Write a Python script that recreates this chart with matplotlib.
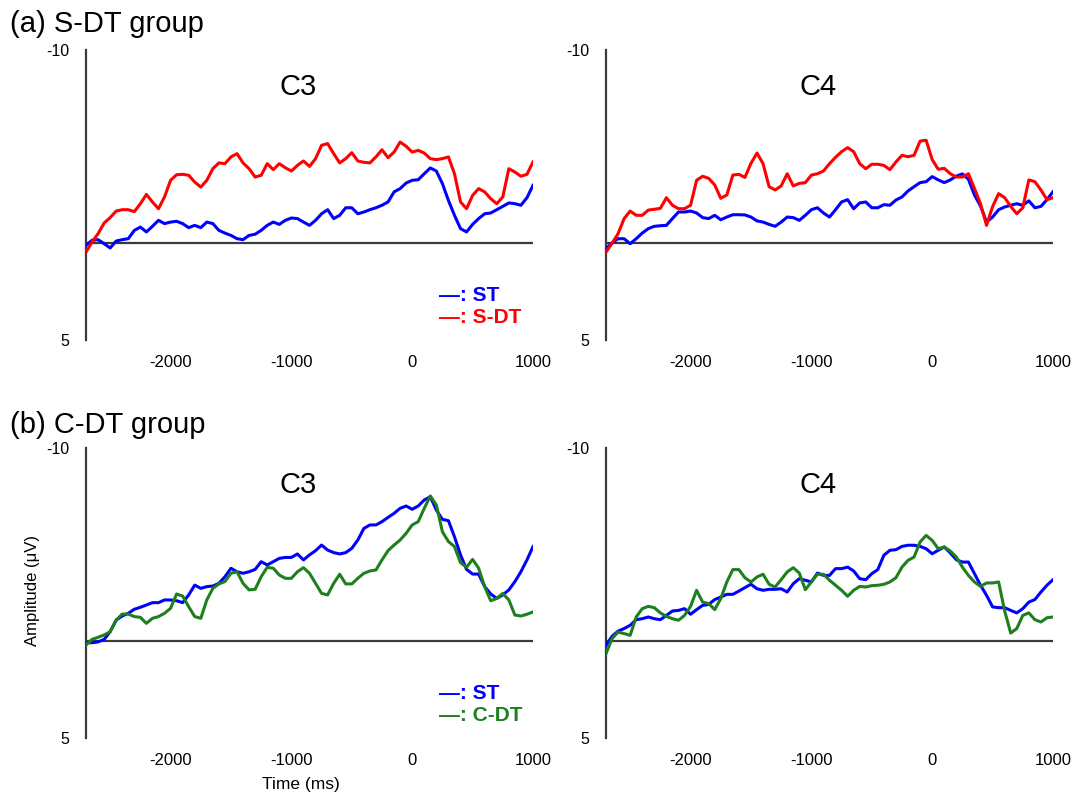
import numpy as np
import matplotlib
matplotlib.use("Agg")
import matplotlib.pyplot as plt

plt.rcParams["font.family"] = ["Liberation Sans", "DejaVu Sans"]

# sampling times (ms), 50 ms steps from -2700 to 1000
time_ms = np.arange(-2700, 1001, 50)

# (a) S-DT group, amplitudes in microvolts (negative is up)
sdt_c3_st = [0.1, -0.16, -0.19, 0.02, 0.24, -0.12, -0.19, -0.24, -0.67, -0.84,
             -0.59, -0.88, -1.19, -1.02, -1.1, -1.14, -1.02, -0.81, -0.93, -0.81,
             -1.1, -1.02, -0.67, -0.53, -0.41, -0.24, -0.19, -0.41, -0.47, -0.67,
             -0.93, -1.1, -0.98, -1.19, -1.31, -1.28, -1.1, -0.93, -1.19, -1.53,
             -1.74, -1.28, -1.45, -1.84, -1.84, -1.53, -1.62, -1.74, -1.84, -1.97,
             -2.14, -2.66, -2.83, -3.12, -3.26, -3.29, -3.6, -3.9, -3.74, -3.09,
             -2.22, -1.45, -0.76, -0.59, -0.98, -1.28, -1.53, -1.57, -1.74, -1.91,
             -2.09, -2.05, -1.97, -2.36, -3.0]
sdt_c3_sdt = [0.45, -0.07, -0.5, -1.05, -1.33, -1.67, -1.74, -1.74, -1.64, -2.05,
              -2.53, -2.14, -1.79, -2.4, -3.26, -3.55, -3.57, -3.52, -3.17, -2.91,
              -3.26, -3.86, -4.16, -4.12, -4.47, -4.64, -4.16, -3.86, -3.43, -3.52,
              -4.12, -3.81, -4.12, -3.91, -3.74, -4.03, -4.26, -3.98, -4.38, -5.07,
              -5.16, -4.64, -4.16, -4.38, -4.69, -4.26, -4.19, -4.16, -4.47, -4.84,
              -4.43, -4.72, -5.24, -5.02, -4.72, -4.81, -4.67, -4.38, -4.33, -4.38,
              -4.47, -3.6, -2.14, -1.79, -2.48, -2.83, -2.66, -2.31, -2.05, -2.4,
              -3.86, -3.69, -3.47, -3.57, -4.21]
sdt_c4_st = [0.28, -0.02, -0.24, -0.24, 0.02, -0.24, -0.53, -0.76, -0.88, -0.91,
             -0.93, -1.28, -1.62, -1.62, -1.67, -1.57, -1.33, -1.28, -1.45, -1.22,
             -1.36, -1.48, -1.48, -1.47, -1.36, -1.16, -1.1, -0.98, -0.88, -1.1,
             -1.36, -1.33, -1.19, -1.45, -1.74, -1.84, -1.57, -1.36, -1.74, -2.14,
             -2.26, -1.79, -2.09, -2.14, -1.84, -1.84, -2.0, -1.97, -2.24, -2.4,
             -2.71, -2.93, -3.14, -3.19, -3.45, -3.28, -3.14, -3.28, -3.48, -3.59,
             -3.31, -2.5, -1.93, -1.1, -1.36, -1.74, -1.88, -1.97, -2.05, -1.97,
             -2.2, -1.84, -1.91, -2.26, -2.67]
sdt_c4_sdt = [0.45, 0.0, -0.5, -1.28, -1.67, -1.45, -1.45, -1.72, -1.76, -1.81,
              -2.36, -1.97, -1.79, -1.79, -1.97, -3.26, -3.47, -3.36, -3.02, -2.33,
              -2.5, -3.53, -3.57, -3.41, -4.14, -4.67, -4.12, -2.93, -2.76, -2.97,
              -3.6, -2.97, -3.1, -3.14, -3.53, -3.6, -3.74, -4.12, -4.45, -4.74,
              -4.95, -4.74, -4.12, -3.86, -4.09, -4.09, -4.03, -3.81, -4.21, -4.55,
              -4.48, -4.55, -5.29, -5.33, -4.33, -3.83, -3.88, -3.6, -3.43, -3.43,
              -3.6, -2.84, -2.05, -0.93, -1.9, -2.57, -2.36, -1.91, -1.53, -1.84,
              -3.28, -3.19, -2.76, -2.26, -2.36]

# (b) C-DT group
cdt_c3_st = [0.07, 0.07, 0.03, -0.1, -0.5, -1.1, -1.31, -1.45, -1.66, -1.76,
             -1.88, -2.0, -2.0, -2.14, -2.14, -2.1, -2.0, -2.4, -2.91, -2.74,
             -2.83, -2.86, -3.0, -3.34, -3.78, -3.6, -3.52, -3.6, -3.72, -4.12,
             -3.95, -4.12, -4.29, -4.34, -4.34, -4.52, -4.21, -4.47, -4.69, -4.98,
             -4.72, -4.59, -4.52, -4.59, -4.81, -5.24, -5.84, -6.02, -6.02, -6.19,
             -6.41, -6.62, -6.88, -7.0, -6.83, -7.0, -7.31, -7.48, -6.79, -6.31,
             -6.24, -5.41, -4.47, -3.72, -3.48, -3.48, -2.83, -2.45, -2.22, -2.4,
             -2.66, -3.09, -3.6, -4.21, -4.9]
cdt_c3_cdt = [0.19, -0.1, -0.21, -0.33, -0.5, -1.1, -1.41, -1.41, -1.28, -1.24,
              -0.93, -1.19, -1.28, -1.45, -1.71, -2.45, -2.34, -1.79, -1.28, -1.19,
              -2.14, -2.74, -2.97, -3.09, -3.52, -3.6, -3.0, -2.66, -2.69, -3.34,
              -3.83, -3.78, -3.43, -3.26, -3.26, -3.6, -3.81, -3.52, -3.0, -2.48,
              -2.4, -3.0, -3.47, -2.97, -2.97, -3.26, -3.52, -3.64, -3.69, -4.21,
              -4.69, -4.98, -5.24, -5.59, -6.02, -6.19, -6.88, -7.52, -7.05, -5.67,
              -5.16, -4.9, -4.07, -3.83, -4.24, -3.78, -2.83, -2.1, -2.22, -2.48,
              -2.14, -1.36, -1.31, -1.4, -1.52]
cdt_c4_st = [0.21, -0.26, -0.53, -0.66, -0.83, -1.12, -1.17, -1.26, -1.17, -1.12,
             -1.34, -1.57, -1.6, -1.69, -1.4, -1.64, -1.86, -1.91, -2.16, -2.29,
             -2.43, -2.43, -2.6, -2.78, -2.95, -2.72, -2.64, -2.69, -2.69, -2.72,
             -2.55, -2.98, -3.24, -3.16, -3.07, -3.53, -3.41, -3.41, -3.76, -3.76,
             -3.84, -3.64, -3.24, -3.19, -3.5, -3.71, -4.45, -4.71, -4.74, -4.91,
             -4.97, -4.97, -4.91, -4.79, -4.53, -4.71, -4.88, -4.57, -4.22, -4.1,
             -4.1, -3.5, -2.9, -2.38, -1.78, -1.74, -1.74, -1.6, -1.47, -1.69,
             -2.03, -2.16, -2.55, -2.9, -3.19]
cdt_c4_cdt = [0.64, -0.14, -0.48, -0.4, -0.31, -1.26, -1.69, -1.81, -1.74, -1.47,
              -1.29, -1.17, -1.09, -1.34, -1.81, -2.64, -2.03, -1.95, -1.64, -2.21,
              -3.07, -3.71, -3.71, -3.29, -3.07, -3.33, -3.47, -2.95, -2.81, -3.19,
              -3.59, -3.81, -3.53, -2.67, -3.07, -3.47, -3.47, -3.16, -2.9, -2.64,
              -2.33, -2.64, -2.84, -2.81, -2.88, -2.9, -2.95, -3.07, -3.29, -3.84,
              -4.19, -4.36, -5.14, -5.48, -5.22, -4.79, -4.88, -4.67, -4.36, -3.84,
              -3.41, -3.07, -2.84, -3.02, -3.02, -3.07, -1.57, -0.43, -0.66, -1.34,
              -1.47, -1.12, -1.0, -1.22, -1.26]

x_ticks = [-2000, -1000, 0, 1000]
y_ticks = [-10, 5]

BLUE = "#0000ff"
RED = "#ff0000"
GREEN = "#1e7f1e"
AXC = "#3a3a3a"

fig = plt.figure(figsize=(10.75, 7.96), dpi=100)
W, H = 1075, 796


def make_ax(px_left, px_top):
    ax = fig.add_axes([px_left / W, 1 - (px_top + 290) / H, 447 / W, 290 / H])
    ax.set_xlim(-2700, 1000)
    ax.set_ylim(5, -10)
    for s in ["top", "right", "bottom"]:
        ax.spines[s].set_visible(False)
    ax.spines["left"].set_color(AXC)
    ax.spines["left"].set_linewidth(1.6)
    ax.axhline(0, color=AXC, linewidth=1.6, zorder=1)
    ax.set_xticks(x_ticks)
    ax.set_xticklabels([str(t) for t in x_ticks], fontsize=12)
    ax.set_yticks(y_ticks)
    ax.set_yticklabels([str(t) for t in y_ticks], fontsize=11.5)
    ax.tick_params(axis="x", length=0, pad=11)
    ax.tick_params(axis="y", length=0, pad=12)
    return ax


panels = [
    (86, 50, "C3", sdt_c3_st, sdt_c3_sdt, RED, "S-DT", True),
    (606, 50, "C4", sdt_c4_st, sdt_c4_sdt, RED, "S-DT", False),
    (86, 448, "C3", cdt_c3_st, cdt_c3_cdt, GREEN, "C-DT", True),
    (606, 448, "C4", cdt_c4_st, cdt_c4_cdt, GREEN, "C-DT", False),
]

for left, top, name, st, dt, col, lab, show_leg in panels:
    ax = make_ax(left, top)
    ax.plot(time_ms, st, color=BLUE, linewidth=2.2, zorder=3,
            solid_joinstyle="round")
    ax.plot(time_ms, dt, color=col, linewidth=2.2, zorder=4,
            solid_joinstyle="round")
    ax.text(0.474, 0.872, name, transform=ax.transAxes, ha="center",
            va="center", fontsize=21)
    if show_leg:
        ax.text(0.79, 0.155, "\u2014: ST", transform=ax.transAxes, color=BLUE,
                fontsize=15, fontweight="bold", va="center", ha="left")
        ax.text(0.79, 0.076, "\u2014: " + lab, transform=ax.transAxes, color=col,
                fontsize=15, fontweight="bold", va="center", ha="left")

fig.text(10 / W, 1 - 24 / H, "(a) S-DT group", fontsize=21, ha="left", va="center")
fig.text(10 / W, 1 - 425 / H, "(b) C-DT group", fontsize=21, ha="left", va="center")
fig.text(32 / W, 1 - 590 / H, "Amplitude (\u03bcV)", fontsize=12, rotation=90,
         ha="center", va="center")
fig.text(301 / W, 1 - 785 / H, "Time (ms)", fontsize=12.5, ha="center", va="center")

fig.savefig("out.png", dpi=100)
